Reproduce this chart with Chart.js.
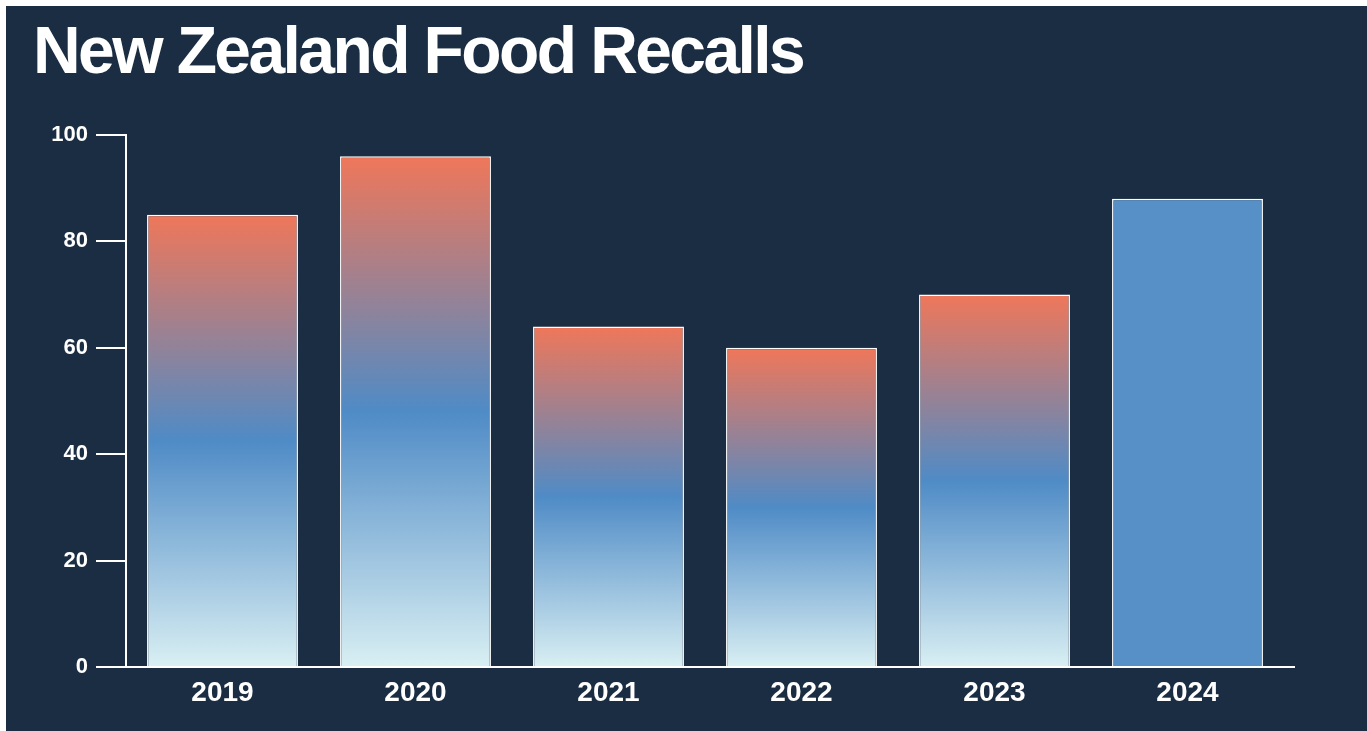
<!DOCTYPE html>
<html>
<head>
<meta charset="utf-8">
<script src="https://cdn.jsdelivr.net/npm/chart.js@4.4.1/dist/chart.umd.min.js"></script>
<style>
  html, body { margin: 0; padding: 0; background: #ffffff; }
  #page { position: relative; width: 1367px; height: 731px; overflow: hidden; }
  #panel { position: absolute; left: 6px; top: 6px; right: 0; bottom: 0; background: #1b2d42; }
  #title {
    position: absolute; left: 33px; top: 17px; margin: 0;
    font-family: "Liberation Sans", Arial, sans-serif; font-weight: bold;
    font-size: 66px; line-height: 66px; letter-spacing: -2.6px; color: #ffffff;
    white-space: nowrap;
  }
  #wrap { position: absolute; left: 0; top: 0; width: 1367px; height: 731px; }
</style>
</head>
<body>
<div id="page">
  <div id="panel"></div>
  <h1 id="title">New Zealand Food Recalls</h1>
  <div id="wrap"><canvas id="chart"></canvas></div>
</div>
<script>
'use strict';

/* ── Data ───────────────────────────────────────────── */
const years   = ['2019', '2020', '2021', '2022', '2023', '2024'];
const recalls = [85, 96, 64, 60, 70, 88];
const yTicks  = [0, 20, 40, 60, 80, 100];

/* ── Colours ────────────────────────────────────────── */
const TOP_COL  = '#ef775a';
const MID_COL  = '#4f8bc6';
const BASE_COL = '#d9eff3';
const LAST_COL = '#5690c7';
const FONT     = '"Liberation Sans", Arial, sans-serif';

/** Vertical gradient for one bar: orange top → blue middle → pale base. */
function barFill(context) {
  const chart = context.chart;
  const { ctx, chartArea, scales } = chart;
  if (!chartArea) return MID_COL;
  if (context.dataIndex === years.length - 1) return LAST_COL;
  const yTop  = scales.y.getPixelForValue(context.raw);
  const yBase = scales.y.getPixelForValue(0);
  const g = ctx.createLinearGradient(0, yTop, 0, yBase);
  g.addColorStop(0, TOP_COL);
  g.addColorStop(0.5, MID_COL);
  g.addColorStop(1, BASE_COL);
  return g;
}

/* x axis baseline runs a little past the last category */
const axisTail = {
  id: 'axisTail',
  afterDraw(chart) {
    const { ctx, chartArea, scales } = chart;
    const y0 = scales.y.getPixelForValue(0);
    ctx.save();
    ctx.strokeStyle = '#ffffff';
    ctx.lineWidth = 2;
    ctx.beginPath();
    ctx.moveTo(chartArea.right - 1, y0);
    ctx.lineTo(chartArea.right + 11, y0);
    ctx.stroke();
    ctx.restore();
  }
};

new Chart(document.getElementById('chart'), {
  type: 'bar',
  data: {
    labels: years,
    datasets: [{
      data: recalls,
      backgroundColor: barFill,
      borderColor: '#ffffff',
      borderWidth: 1.5,
      barPercentage: 0.782,
      categoryPercentage: 1
    }]
  },
  plugins: [axisTail],
  options: {
    responsive: true,
    maintainAspectRatio: false,
    animation: false,
    layout: { padding: { top: 135, right: 83, bottom: 0, left: 0 } },
    plugins: {
      legend: { display: false },
      tooltip: { enabled: false }
    },
    scales: {
      x: {
        offset: true,
        grid: { display: false },
        border: { display: true, color: '#ffffff', width: 2 },
        ticks: {
          color: '#ffffff',
          padding: 1,
          font: { family: FONT, size: 28, weight: 'bold' }
        },
        afterFit: s => { s.height = 64; }
      },
      y: {
        min: 0,
        max: 100,
        afterBuildTicks: s => { s.ticks = yTicks.map(v => ({ value: v })); },
        grid: {
          display: true,
          drawOnChartArea: false,
          drawTicks: true,
          tickLength: 30,
          color: '#ffffff',
          lineWidth: 2
        },
        border: { display: true, color: '#ffffff', width: 2 },
        ticks: {
          color: '#ffffff',
          padding: 8,
          font: { family: FONT, size: 22, weight: 'bold' }
        },
        afterFit: s => { s.width = 126; }
      }
    }
  }
});
</script>
</body>
</html>
